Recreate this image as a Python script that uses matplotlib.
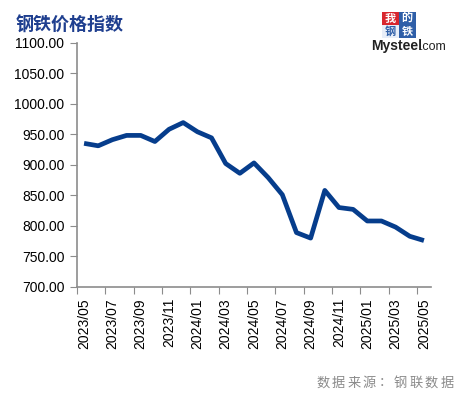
import matplotlib.pyplot as plt
from matplotlib.patches import Rectangle

plt.rcParams['font.family'] = ['Liberation Sans', 'Noto Sans CJK SC', 'DejaVu Sans']

# monthly steel price index, 2023/05 .. 2025/05
months = ['2023/05', '2023/06', '2023/07', '2023/08', '2023/09', '2023/10', '2023/11', '2023/12',
          '2024/01', '2024/02', '2024/03', '2024/04', '2024/05', '2024/06', '2024/07', '2024/08',
          '2024/09', '2024/10', '2024/11', '2024/12', '2025/01', '2025/02', '2025/03', '2025/04',
          '2025/05']
index_values = [935, 931, 941, 948, 948, 938, 958, 969, 954, 944, 902, 886, 903,
                879, 851, 789, 780, 858, 830, 827, 808, 808, 798, 783, 776]
y_ticks = [700, 750, 800, 850, 900, 950, 1000, 1050, 1100]

title = '钢铁价格指数'
source = '数据来源：钢联数据'

line_color = '#063d8c'
axis_color = '#8c8c8c'

fig = plt.figure(figsize=(4.63, 3.97), dpi=100)
fig.patch.set_facecolor('white')
ax = fig.add_axes([77 / 463, 1 - 287 / 397, 354 / 463, 244.5 / 397])

x = list(range(len(months)))
ax.plot(x, index_values, color=line_color, linewidth=3.4, solid_joinstyle='round',
        solid_capstyle='butt', zorder=3)

ax.set_xlim(-0.5, len(months) - 0.5)
ax.set_ylim(700, 1100)

# category axis: tick marks at boundaries, labels centred on the category
ax.set_xticks([i - 0.5 for i in x[::2]])
ax.set_xticklabels([])
ax.set_xticks(x[::2], minor=True)
ax.set_xticklabels(months[::2], minor=True, rotation=90, fontsize=10, color='black')
ax.tick_params(axis='x', which='major', length=5, color=axis_color, direction='out')
ax.tick_params(axis='x', which='minor', length=0, pad=8)

ax.set_yticks(y_ticks)
ax.set_yticklabels([f'{v:.2f}' for v in y_ticks], fontsize=10, color='black')
ax.tick_params(axis='y', length=5, color=axis_color, direction='out', pad=4)

for side in ['top', 'right']:
    ax.spines[side].set_visible(False)
for side in ['left', 'bottom']:
    ax.spines[side].set_color(axis_color)
    ax.spines[side].set_linewidth(1.2)

fig.text(16 / 463, 1 - 25 / 397, title, fontsize=13, fontweight='bold', color='#1f3f8f',
         family=['Noto Sans CJK SC'], va='center', ha='left')

# source note, characters spread out like the original
for k, ch in enumerate(source):
    fig.text((323 + k * 15.5) / 463, 1 - 383 / 397, ch, fontsize=9.5, color='#8a8a8a',
             family=['Noto Sans CJK SC'], va='center', ha='center')

# Mysteel logo (approximation)
cells = [(382, 12, '我', '#d8262e', 'white'), (399, 12, '的', '#2f5fa8', 'white'),
         (382, 25, '钢', '#e8eef8', '#2f5fa8'), (399, 25, '铁', '#2f5fa8', 'white')]
for cx, cy, ch, bg, fg in cells:
    fig.patches.append(Rectangle((cx / 463, 1 - (cy + 12.5) / 397), 16.5 / 463, 12.5 / 397,
                                 transform=fig.transFigure, facecolor=bg, edgecolor='none'))
    fig.text((cx + 8.25) / 463, 1 - (cy + 6.25) / 397, ch, fontsize=8, color=fg,
             family=['Noto Sans CJK SC'], fontweight='bold', ha='center', va='center')
fig.text(371 / 463, 1 - 46 / 397, 'Mysteel', fontsize=10, fontweight='bold', color='#222222',
         ha='left', va='center')
fig.text(420 / 463, 1 - 47 / 397, '.com', fontsize=9, color='#222222', ha='left', va='center')

fig.savefig('out.png', dpi=100, facecolor='white')
